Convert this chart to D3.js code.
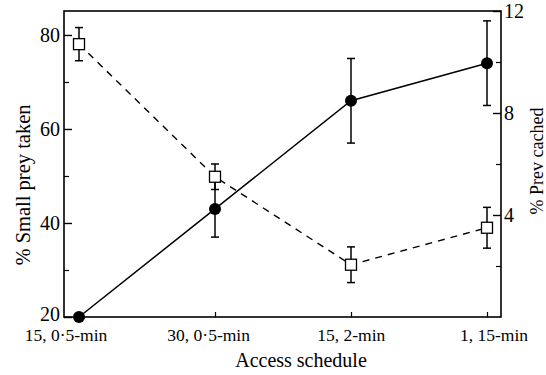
<!DOCTYPE html>
<html>
<head>
<meta charset="utf-8">
<script src="https://cdn.jsdelivr.net/npm/d3@7"></script>
<style>
  body { margin: 0; background: #fff; }
  svg text { font-family: "Liberation Serif", "DejaVu Serif", serif; fill: #000; }
</style>
</head>
<body>
<div id="chart"></div>
<script>
// access schedules on the x axis
let schedules = ["15, 0·5-min", "30, 0·5-min", "15, 2-min", "1, 15-min"]

// % small prey taken (left axis), filled circles
let smallTaken = [20, 43, 66, 74]
let smallTakenErr = [0, 6, 9, 9]

// % prey cached (right axis), open squares
let preyCached = [10.7, 5.5, 2.05, 3.5]
let preyCachedErr = [0.65, 0.5, 0.7, 0.8]

let leftTicks = [20, 40, 60, 80]
let leftMinor = [30, 50, 70]
let rightTicks = [4, 8, 12]
let rightMinor = [2, 6, 10]

var W = 546, H = 375
var frame = { left: 64, right: 501, top: 11, bottom: 317 }

var svg = d3.select("#chart").append("svg")
    .attr("width", W)
    .attr("height", H)

var x = d3.scalePoint()
    .domain(schedules)
    .range([79, 487])

// labels sit a bit left of the points in the original
var xLab = d3.scalePoint()
    .domain(schedules)
    .range([66, 494])

var yL = d3.scaleLinear().domain([20, 85.1]).range([frame.bottom, frame.top])
var yR = d3.scaleLinear().domain([0, 12]).range([frame.bottom, frame.top])

// frame
svg.append("rect")
    .attr("x", frame.left)
    .attr("y", frame.top)
    .attr("width", frame.right - frame.left)
    .attr("height", frame.bottom - frame.top)
    .attr("fill", "none")
    .attr("stroke", "#000")
    .attr("stroke-width", 1.6)

// left axis ticks (inward)
svg.append("g")
    .attr("transform", "translate(" + frame.left + ",0)")
    .call(d3.axisRight(yL).tickValues(leftTicks).tickSize(8).tickFormat(""))
    .call(g => g.select(".domain").remove())
    .call(g => g.selectAll("line").attr("stroke-width", 1.4))

svg.append("g")
    .attr("transform", "translate(" + frame.left + ",0)")
    .call(d3.axisRight(yL).tickValues(leftMinor).tickSize(5).tickFormat(""))
    .call(g => g.select(".domain").remove())
    .call(g => g.selectAll("line").attr("stroke-width", 1.2))

svg.selectAll(".lt")
    .data(leftTicks)
    .enter().append("text")
    .attr("class", "lt")
    .attr("x", frame.left - 4)
    .attr("y", d => yL(d) + (d == 20 ? 4 : 7))
    .attr("text-anchor", "end")
    .style("font-size", "20px")
    .text(d => d)

// right axis ticks (inward)
svg.append("g")
    .attr("transform", "translate(" + frame.right + ",0)")
    .call(d3.axisLeft(yR).tickValues(rightTicks).tickSize(8).tickFormat(""))
    .call(g => g.select(".domain").remove())
    .call(g => g.selectAll("line").attr("stroke-width", 1.4))

svg.append("g")
    .attr("transform", "translate(" + frame.right + ",0)")
    .call(d3.axisLeft(yR).tickValues(rightMinor).tickSize(5).tickFormat(""))
    .call(g => g.select(".domain").remove())
    .call(g => g.selectAll("line").attr("stroke-width", 1.2))

svg.selectAll(".rt")
    .data(rightTicks)
    .enter().append("text")
    .attr("class", "rt")
    .attr("x", frame.right + 3)
    .attr("y", d => yR(d) + 7)
    .attr("text-anchor", "start")
    .style("font-size", "20px")
    .text(d => d)

// bottom ticks (inward)
svg.append("g")
    .attr("transform", "translate(0," + frame.bottom + ")")
    .call(d3.axisTop(x).tickSize(5).tickFormat(""))
    .call(g => g.select(".domain").remove())
    .call(g => g.selectAll("line").attr("stroke-width", 1.2))

svg.selectAll(".xt")
    .data(schedules)
    .enter().append("text")
    .attr("class", "xt")
    .attr("x", d => xLab(d))
    .attr("y", 341)
    .attr("text-anchor", "middle")
    .style("font-size", "17.5px")
    .text(d => d)

// axis titles
svg.append("text")
    .attr("x", 301)
    .attr("y", 367)
    .attr("text-anchor", "middle")
    .style("font-size", "20px")
    .text("Access schedule")

svg.append("text")
    .attr("transform", "translate(30,185) rotate(-90)")
    .attr("text-anchor", "middle")
    .style("font-size", "20.5px")
    .text("% Small prey taken")

svg.append("text")
    .attr("transform", "translate(543,161) rotate(-90)")
    .attr("text-anchor", "middle")
    .style("font-size", "18px")
    .text("% Prev cached")

// dashed line for prey cached
var lineR = d3.line()
    .x((d, i) => x(schedules[i]))
    .y(d => yR(d))

svg.append("path")
    .datum(preyCached)
    .attr("d", lineR)
    .attr("fill", "none")
    .attr("stroke", "#000")
    .attr("stroke-width", 1.4)
    .attr("stroke-dasharray", "7,6")

// solid line for small prey taken
var lineL = d3.line()
    .x((d, i) => x(schedules[i]))
    .y(d => yL(d))

svg.append("path")
    .datum(smallTaken)
    .attr("d", lineL)
    .attr("fill", "none")
    .attr("stroke", "#000")
    .attr("stroke-width", 1.5)

// error bars
function errBars(vals, errs, y, cls) {
    var g = svg.append("g").attr("class", cls)
    vals.forEach((v, i) => {
        if (!errs[i]) return
        var cx = x(schedules[i])
        var y1 = y(v + errs[i]), y2 = y(v - errs[i])
        g.append("line").attr("x1", cx).attr("x2", cx).attr("y1", y1).attr("y2", y2)
            .attr("stroke", "#000").attr("stroke-width", 1.5)
        g.append("line").attr("x1", cx - 4).attr("x2", cx + 4).attr("y1", y1).attr("y2", y1)
            .attr("stroke", "#000").attr("stroke-width", 1.5)
        g.append("line").attr("x1", cx - 4).attr("x2", cx + 4).attr("y1", y2).attr("y2", y2)
            .attr("stroke", "#000").attr("stroke-width", 1.5)
    })
}
errBars(preyCached, preyCachedErr, yR, "errR")
errBars(smallTaken, smallTakenErr, yL, "errL")

// open squares
svg.selectAll(".sq")
    .data(preyCached)
    .enter().append("rect")
    .attr("class", "sq")
    .attr("x", (d, i) => x(schedules[i]) - 5.5)
    .attr("y", d => yR(d) - 5.5)
    .attr("width", 11)
    .attr("height", 11)
    .attr("fill", "#fff")
    .attr("stroke", "#000")
    .attr("stroke-width", 1.3)

// filled circles
svg.selectAll(".dot")
    .data(smallTaken)
    .enter().append("circle")
    .attr("class", "dot")
    .attr("cx", (d, i) => x(schedules[i]))
    .attr("cy", d => yL(d))
    .attr("r", 6)
    .attr("fill", "#000")
</script>
</body>
</html>
